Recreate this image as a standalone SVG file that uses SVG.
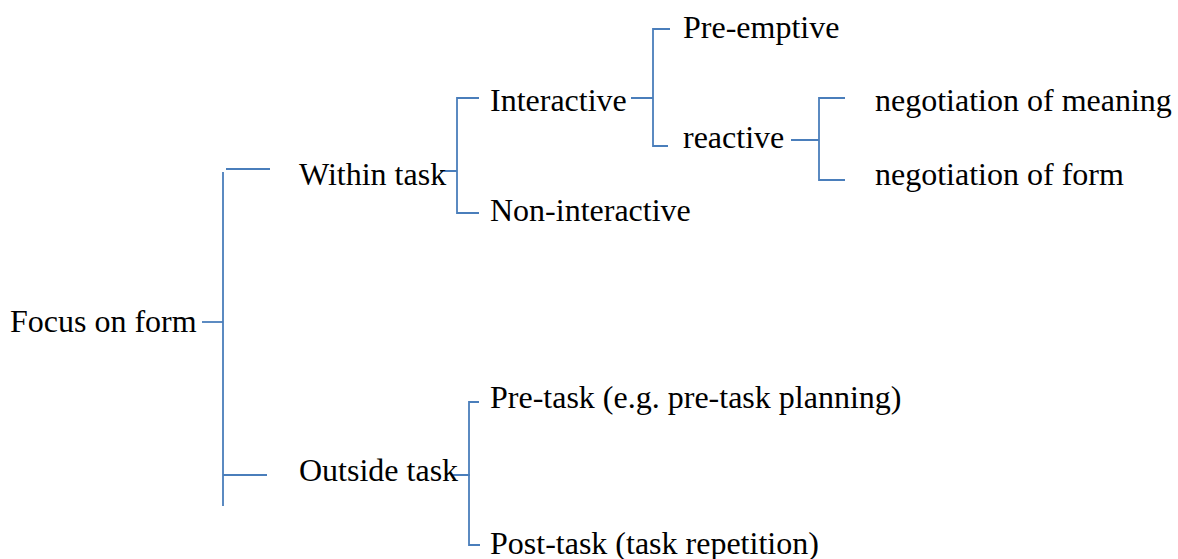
<svg xmlns="http://www.w3.org/2000/svg" width="1178" height="559" viewBox="0 0 1178 559">
<style>
text{font-family:"Liberation Serif","Times New Roman",serif;font-size:32px;fill:#000}
.c{fill:none;stroke:#4a7ebb;stroke-width:1.8}
</style>
<rect width="1178" height="559" fill="#fff"/>
<g id="connectors" class="c">
<path d="M202,322H223"/>
<path d="M226,169H270M223,172V506M223,475H267"/>
<path d="M440,171H457M479,98H457V213H479"/>
<path d="M631,98H653M670,29H653V146H668"/>
<path d="M791,140H819M845,98H819V180H845"/>
<path d="M451,475H470M479,402H469V545H480"/>
</g>
<g id="n-focus"><text x="10" y="332">Focus on form</text></g>
<g id="n-within"><text x="299" y="185">Within task</text></g>
<g id="n-outside"><text x="299" y="481">Outside task</text></g>
<g id="n-interactive"><text x="490" y="111">Interactive</text></g>
<g id="n-noninteractive"><text x="490" y="221">Non-interactive</text></g>
<g id="n-preemptive"><text x="683" y="38">Pre-emptive</text></g>
<g id="n-reactive"><text x="683" y="148">reactive</text></g>
<g id="n-meaning"><text x="875" y="111">negotiation of meaning</text></g>
<g id="n-form"><text x="875" y="185">negotiation of form</text></g>
<g id="n-pretask"><text x="490" y="408">Pre-task (e.g. pre-task planning)</text></g>
<g id="n-posttask"><text x="490" y="554">Post-task (task repetition)</text></g>
</svg>
